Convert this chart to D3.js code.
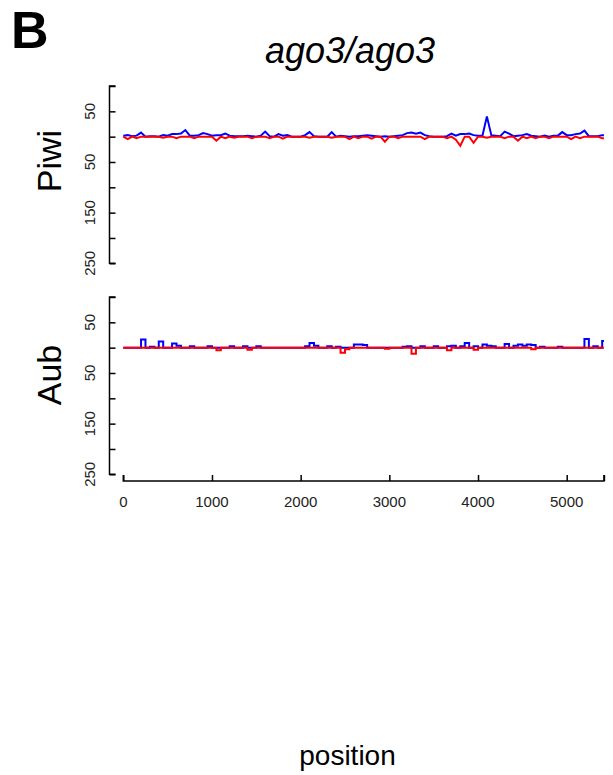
<!DOCTYPE html>
<html><head><meta charset="utf-8">
<script src="https://cdn.jsdelivr.net/npm/d3@7"></script>
<style>body{margin:0;background:#fff;} text{font-family:"Liberation Sans",Arial,sans-serif;}</style>
</head><body>
<script>
// ---- data (counts per 50-bp bin along the transcript) ----
const seqLength = 5420;
const binWidth = 50;
const xTicks = [0, 1000, 2000, 3000, 4000, 5000];
const yTicks = [100, 50, 0, -50, -100, -150, -200, -250];
const yTickLabels = {"50": "50", "-50": "50", "-150": "150", "-250": "250"};
const panelNames = ["Piwi", "Aub"];
const title = "ago3/ago3";

const piwiSense = [2,3,1,2,8,0,1,1,0,3, 2,5,5,6,13,2,2,3,7,5, 2,3,3,6,2,1,1,1,2,1,
  0,2,10,1,0,5,2,3,0,0, 0,3,9,1,0,0,0,9,0,2, 1,0,1,1,2,3,2,1,0,1,
  0,1,2,3,7,8,6,8,3,1, 0,0,0,1,6,2,5,5,6,3, 2,2,40,3,2,1,10,6,1,2,
  3,5,2,1,0,2,0,2,2,9, 3,3,5,6,12,1,1,1,3];
const piwiAntisense = [0,-5,0,-3,0,0,0,0,0,-2, 0,0,-3,0,0,0,-3,0,0,0, 0,-8,0,-3,0,-2,0,0,0,-3,
  0,0,0,-3,0,0,-4,0,0,0, 0,0,-2,0,0,0,0,-2,0,0, 0,-5,0,-3,0,0,-4,0,0,-10,
  0,0,-3,0,0,0,0,0,-5,0, 0,0,0,-3,0,-6,-18,0,0,-12, 0,0,-2,0,0,0,-3,0,0,-8,
  0,-3,0,-3,0,0,-3,0,0,0, 0,-5,0,-3,0,0,0,0,-3];
const aubSense = [0,0,0,0,16,0,2,0,12,0, 0,8,4,0,0,3,0,0,0,3, 0,0,0,0,3,0,0,3,0,0,
  3,0,0,0,0,0,0,0,0,0, 0,3,9,4,0,0,3,0,2,0, 0,0,6,6,5,0,0,0,0,0,
  0,0,0,2,3,0,0,3,0,0, 3,0,0,3,4,0,3,9,0,3, 0,6,4,3,0,0,7,0,4,6,
  4,6,5,0,2,0,0,0,2,0, 0,0,0,0,17,0,3,0,13];
const aubAntisense = [0,0,0,0,0,0,0,0,0,0, 0,0,0,0,0,0,0,0,0,0, 0,-5,0,0,0,0,0,0,-4,0,
  0,0,0,0,0,0,0,0,0,0, 0,0,0,0,0,0,0,0,0,-10, -3,0,0,0,0,0,0,0,0,-2,
  0,0,0,0,0,-12,0,0,0,0, 0,0,0,-5,0,0,0,0,0,-4, 0,0,0,0,0,0,0,0,0,0,
  0,0,-3,0,0,0,0,0,0,0, 0,0,0,0,0,0,0,0,0];

const W = 613, H = 775;
const svg = d3.select("body").append("svg").attr("width", W).attr("height", H);

const x = d3.scaleLinear().domain([0, 5000]).range([123.3, 566.7]);

// panel label
svg.append("text").attr("x", 11).attr("y", 48).attr("font-size", 52).attr("font-weight", "bold").text("B");
svg.append("text").attr("x", 350).attr("y", 63).attr("text-anchor", "middle")
  .attr("font-size", 36).attr("font-style", "italic").text(title);

const panels = [
  {name: panelNames[0], top: 86, sense: piwiSense, anti: piwiAntisense, curve: d3.curveLinear, labelY: 161},
  {name: panelNames[1], top: 297, sense: aubSense, anti: aubAntisense, curve: d3.curveStepAfter, labelY: 375}
];

function pts(vals) {
  const p = vals.map((v, i) => [i * binWidth, v]);
  p.push([seqLength, vals[vals.length - 1]]);
  return p;
}

panels.forEach(p => {
  const y = d3.scaleLinear().domain([100, -250]).range([p.top, p.top + 177.3]);
  const g = svg.append("g");
  // y axis (ticks inward)
  const ax = g.append("g").attr("transform", "translate(109.5,0)")
    .call(d3.axisRight(y).tickValues(yTicks).tickSize(6).tickFormat(""));
  ax.select(".domain").attr("d", `M6,${y(100)}H0V${y(-250)}H6`).attr("stroke", "#000").attr("stroke-width", 1.5);
  ax.selectAll(".tick line").attr("stroke", "#000").attr("stroke-width", 1.5);
  yTicks.forEach(t => {
    const lab = yTickLabels[String(t)];
    if (!lab) return;
    g.append("text").attr("transform", `translate(95,${y(t)}) rotate(-90)`)
      .attr("text-anchor", "middle").attr("font-size", 15).attr("fill", "#222").text(lab);
  });
  g.append("text").attr("transform", `translate(61,${p.labelY}) rotate(-90)`)
    .attr("text-anchor", "middle").attr("font-size", 34).text(p.name);
  const line = d3.line().x(d => x(d[0])).y(d => y(d[1])).curve(p.curve);
  g.append("path").attr("d", line(pts(p.sense))).attr("fill", "none").attr("stroke", "#0000ff").attr("stroke-width", 2);
  g.append("path").attr("d", line(pts(p.anti))).attr("fill", "none").attr("stroke", "#ff0000").attr("stroke-width", 2);
});

// x axis with inward ticks
const xa = svg.append("g").attr("transform", "translate(0,481)")
  .call(d3.axisTop(x).tickValues(xTicks.concat([seqLength])).tickSize(6).tickFormat(""));
xa.select(".domain").attr("d", `M${x(0)},-6V0H${x(seqLength)}V-6`).attr("stroke", "#000").attr("stroke-width", 1.5);
xa.selectAll(".tick line").attr("stroke", "#000").attr("stroke-width", 1.5);
xTicks.forEach(t => {
  svg.append("text").attr("x", x(t)).attr("y", 507).attr("text-anchor", "middle")
    .attr("font-size", 15).attr("fill", "#222").text(t);
});

svg.append("text").attr("x", 347.5).attr("y", 765).attr("text-anchor", "middle").attr("font-size", 28).text("position");
</script>
</body></html>
